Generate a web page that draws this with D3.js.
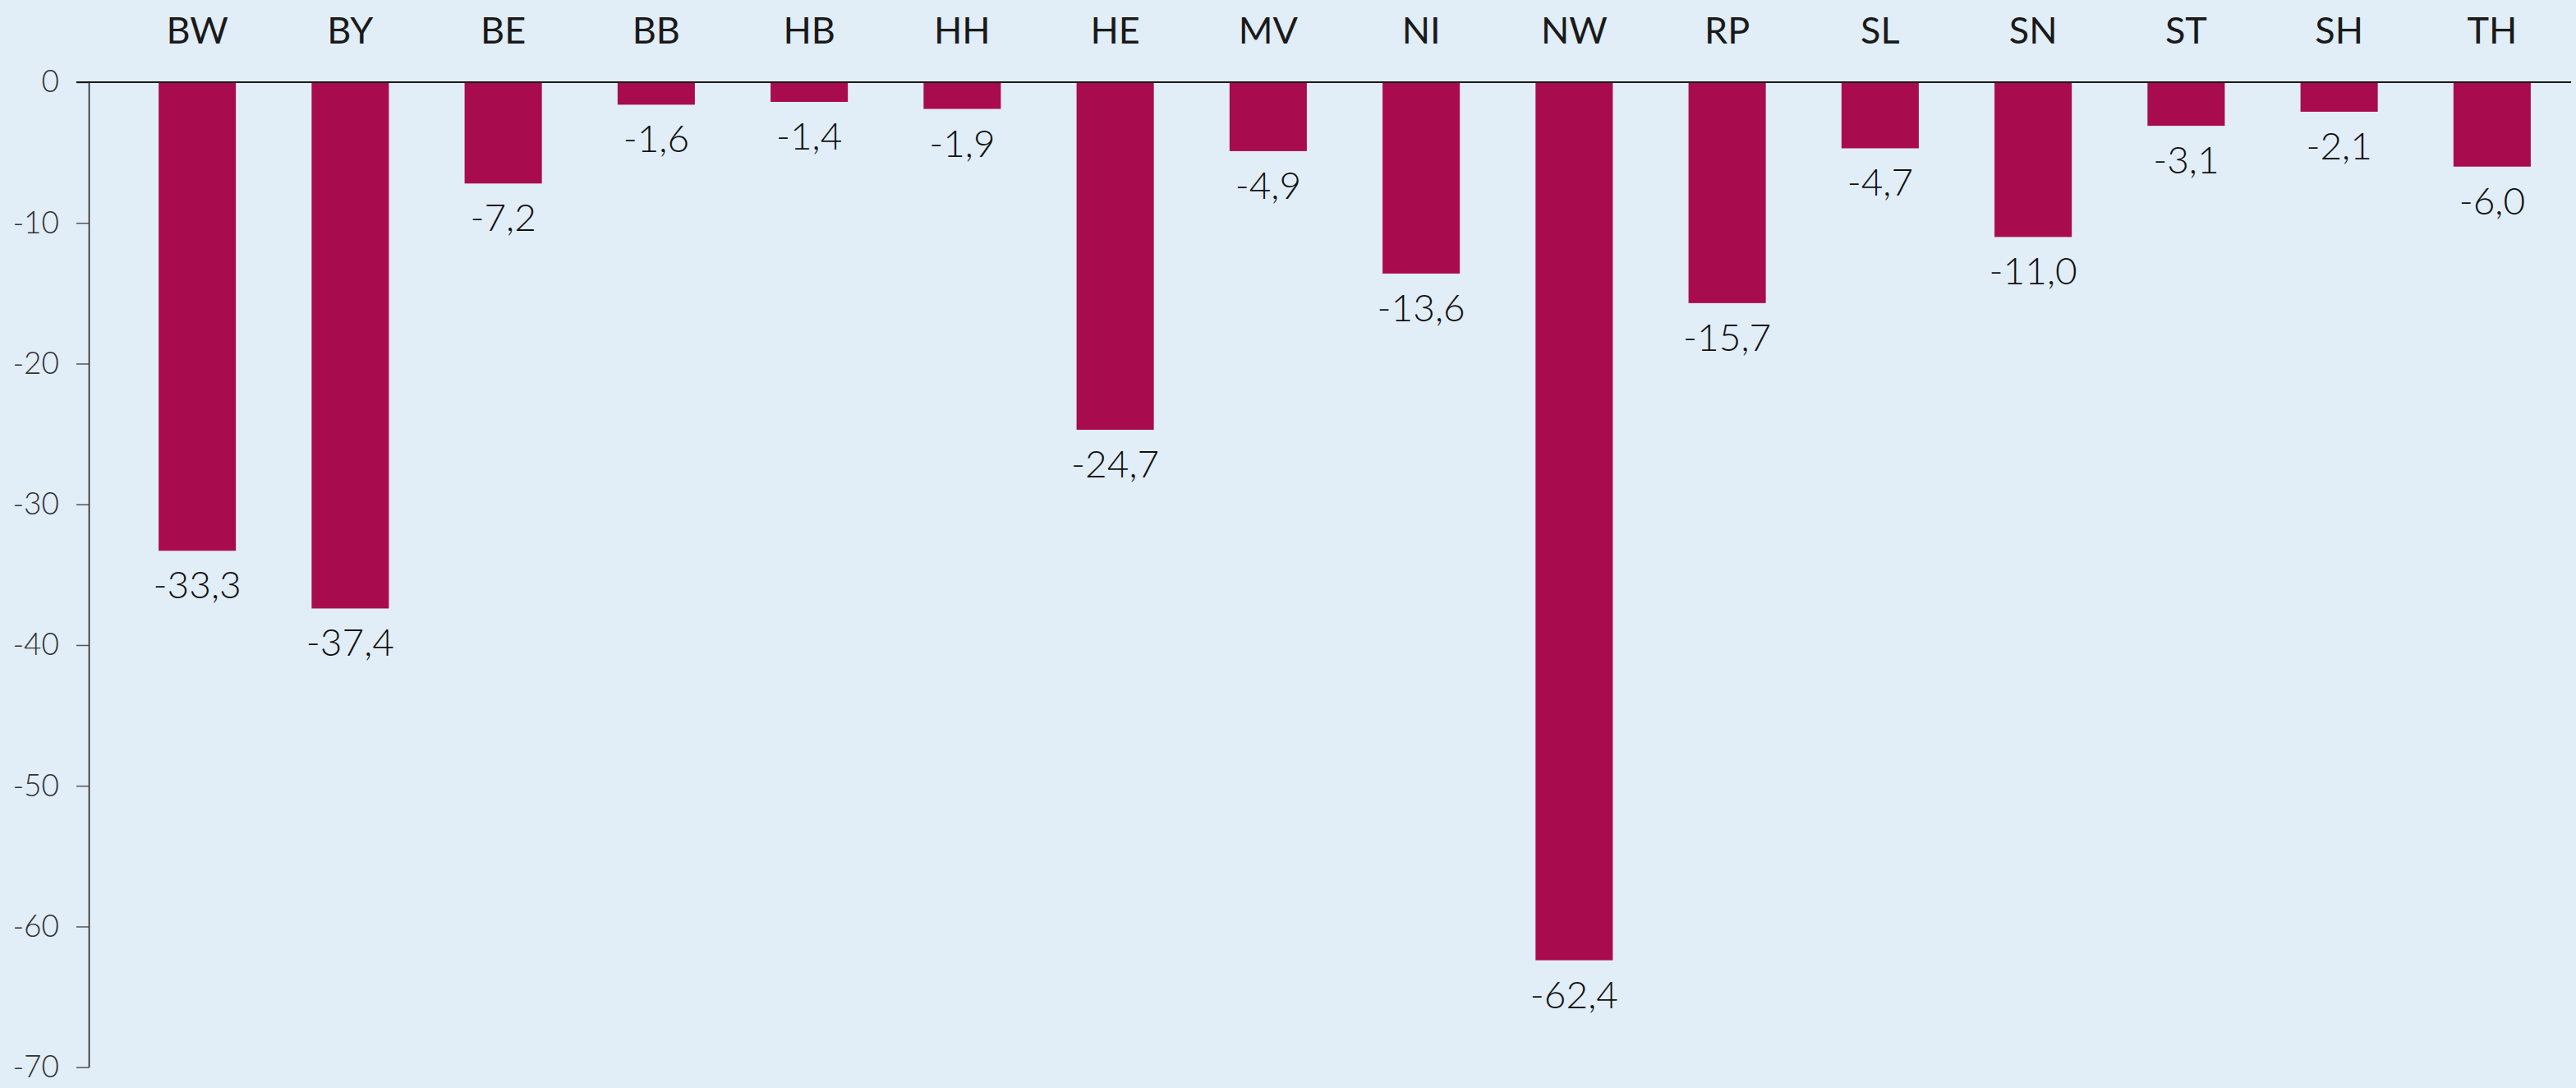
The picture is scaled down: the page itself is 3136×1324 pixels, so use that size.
<!DOCTYPE html>
<html><head><meta charset="utf-8">
<script src="https://cdn.jsdelivr.net/npm/d3@7"></script>
<style>
html,body{margin:0;padding:0;background:#e1edf7;}
svg{display:block;}
</style></head>
<body>
<script>
const categories = ["BW","BY","BE","BB","HB","HH","HE","MV","NI","NW","RP","SL","SN","ST","SH","TH"];
const values = [-33.3,-37.4,-7.2,-1.6,-1.4,-1.9,-24.7,-4.9,-13.6,-62.4,-15.7,-4.7,-11.0,-3.1,-2.1,-6.0];
const yTicks = [0,-10,-20,-30,-40,-50,-60,-70];

const W = 3136, H = 1324;
const svg = d3.select("body").append("svg").attr("width", W).attr("height", H);
svg.append("rect").attr("width", W).attr("height", H).attr("fill", "#e1edf7");

const x = d3.scaleBand().domain(categories).range([147, 3127]).paddingInner(0.495).paddingOuter(0.2475);
const y = d3.scaleLinear().domain([0, -70]).range([100, 1298.7]);

// bars
svg.append("g").selectAll("rect").data(values).join("rect")
  .attr("x", (d,i) => x(categories[i]))
  .attr("width", x.bandwidth())
  .attr("y", y(0))
  .attr("height", d => y(d) - y(0))
  .attr("fill", "#a90b4f");

// y axis
const yAxis = d3.axisLeft(y).tickValues(yTicks).tickSize(15).tickPadding(21).tickSizeOuter(0)
  .tickFormat(d => d3.format("d")(d).replace("−","-"));
const gy = svg.append("g").attr("transform", "translate(108,0)").call(yAxis);
gy.select(".domain").attr("stroke", "#1a1a1a").attr("stroke-width", 1.5);
gy.selectAll(".tick line").attr("stroke", "#555").attr("stroke-width", 1.5);
gy.selectAll(".tick text").attr("fill", "#333").style("font-family", "Lato").style("font-weight", 300).style("font-size", "37px");

// zero line
svg.append("line").attr("x1", 93).attr("x2", 3130).attr("y1", y(0)).attr("y2", y(0))
  .attr("stroke", "#1a1a1a").attr("stroke-width", 2);

// category labels
const xAxis = d3.axisTop(x).tickSize(0).tickPadding(0);
const gx = svg.append("g").attr("transform", "translate(0,53)").call(xAxis);
gx.select(".domain").remove();
gx.selectAll(".tick text").attr("fill", "#1a1a1a").attr("dy", 0)
  .style("font-family", "Lato").style("font-weight", 400).style("font-size", "45px");

// value labels
const fmt = v => d3.format(".1f")(v).replace("−","-").replace(".", ",");
svg.append("g").selectAll("text").data(values).join("text")
  .attr("x", (d,i) => x(categories[i]) + x.bandwidth()/2)
  .attr("y", d => y(d) + 58)
  .attr("text-anchor", "middle")
  .attr("fill", "#111")
  .style("font-family", "Lato").style("font-weight", 300).style("font-size", "46px")
  .text(fmt);
</script>
</body></html>
